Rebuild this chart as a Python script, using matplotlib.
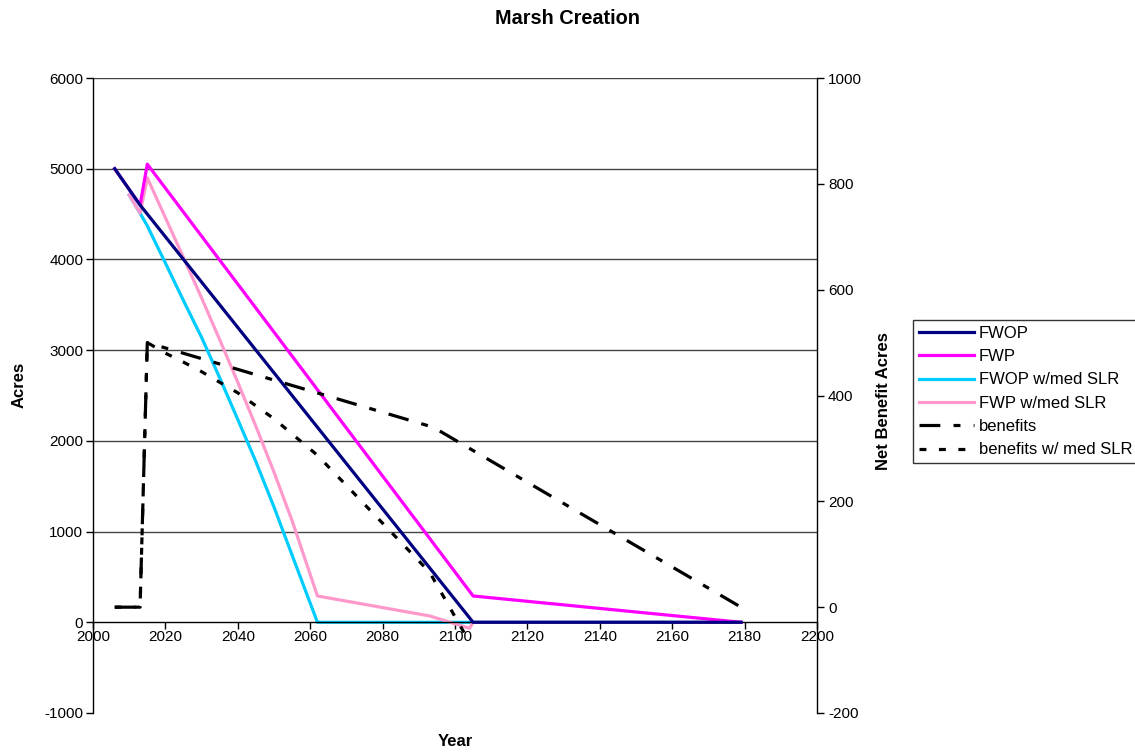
import matplotlib
matplotlib.use("Agg")
import matplotlib.pyplot as plt

plt.rcParams['font.family'] = ['Liberation Sans', 'DejaVu Sans']
plt.rcParams['lines.scale_dashes'] = False
plt.rcParams['axes.unicode_minus'] = False

# Acreage series (left axis)
fwop_years = [2006, 2013, 2105, 2179]
fwop_acres = [5000, 4600, 0, 0]

fwp_years = [2006, 2013, 2015, 2105, 2179]
fwp_acres = [5000, 4600, 5050, 290, 0]

fwop_slr_years = [2010, 2013, 2015, 2020, 2025, 2030, 2035, 2040, 2045, 2050, 2055, 2062, 2179]
fwop_slr_acres = [4710, 4510, 4370, 3960, 3545, 3140, 2695, 2235, 1770, 1270, 740, 0, 0]

fwp_slr_years = [2010, 2013, 2015, 2020, 2025, 2030, 2035, 2040, 2045, 2050, 2055, 2062,
                 2093, 2104, 2105, 2179]
fwp_slr_acres = [4710, 4510, 4900, 4460, 4020, 3575, 3115, 2645, 2160, 1655, 1120, 290,
                 70, -66, 0, 0]

# Net benefit series (right axis)
ben_years = [2006, 2013, 2015, 2094, 2179]
ben_acres = [0, 0, 500, 340, 0]

ben_slr_years = [2006, 2013, 2015, 2020, 2025, 2030, 2040, 2050, 2058, 2062, 2093, 2104]
ben_slr_acres = [0, 0, 500, 480, 463, 445, 405, 356, 310, 287, 66, -66]

x_ticks = [2000, 2020, 2040, 2060, 2080, 2100, 2120, 2140, 2160, 2180, 2200]
left_ticks = [-1000, 0, 1000, 2000, 3000, 4000, 5000, 6000]
grid_levels = [1000, 2000, 3000, 4000, 5000, 6000]
right_ticks = [-200, 0, 200, 400, 600, 800, 1000]

fig = plt.figure(figsize=(11.35, 7.53), dpi=100)
ax = fig.add_axes([93 / 1135, 1 - 713 / 753, (817 - 93) / 1135, (713 - 78) / 753])
ax2 = ax.twinx()

lw = 2.3
h1, = ax.plot(fwop_years, fwop_acres, color='#000080', lw=lw, label='FWOP', zorder=4)
h2, = ax.plot(fwp_years, fwp_acres, color='#FF00FF', lw=lw, label='FWP', zorder=3)
h3, = ax.plot(fwop_slr_years, fwop_slr_acres, color='#00CCFF', lw=lw, label='FWOP w/med SLR', zorder=2)
h4, = ax.plot(fwp_slr_years, fwp_slr_acres, color='#FF99CC', lw=lw, label='FWP w/med SLR', zorder=2.5)

h6, = ax2.plot(ben_slr_years, ben_slr_acres, color='black', lw=lw, label='benefits w/ med SLR')
h6.set_dashes([5, 9])
h5, = ax2.plot(ben_years, ben_acres, color='black', lw=lw, label='benefits')
h5.set_dashes([15, 9.5, 5, 9.5])

ax.set_xlim(2000, 2200)
ax.set_ylim(-1000, 6000)
ax2.set_ylim(-200, 1000)
ax.set_xticks(x_ticks)
ax.set_yticks(left_ticks)
ax2.set_yticks(right_ticks)

for g in grid_levels:
    ax.axhline(g, color='#444444', lw=1.0, zorder=0.5)

for a in (ax, ax2):
    a.spines['top'].set_visible(False)
    a.spines['bottom'].set_visible(False)
ax.spines['bottom'].set_visible(True)
ax.spines['bottom'].set_position(('data', 0))
ax.spines['right'].set_visible(False)
for s in ('left', 'bottom'):
    ax.spines[s].set_color('black')
    ax.spines[s].set_linewidth(1.0)
ax2.spines['right'].set_color('black')
ax2.spines['right'].set_linewidth(1.0)
ax2.spines['left'].set_visible(False)

ax.tick_params(axis='x', direction='out', length=5, width=1, labelsize=11, pad=0.5, color='black')
ax.tick_params(axis='y', direction='out', length=5, width=1, labelsize=11, pad=2, color='black')
ax2.tick_params(axis='y', direction='out', length=5, width=1, labelsize=11, pad=3, color='black')

ax.set_ylabel('Acres', fontsize=12, fontweight='bold')
ax.yaxis.set_label_coords((27 - 93) / 724, (713 - 385) / 635)
ax2.set_ylabel('Net Benefit Acres', fontsize=12, fontweight='bold')
ax2.yaxis.set_label_coords((876 - 93) / 724, (713 - 401) / 635)
fig.text(455 / 1135, 1 - 742 / 753, 'Year', fontsize=12, fontweight='bold', ha='center', va='center')
fig.text(0.5, 1 - 18 / 753, 'Marsh Creation', fontsize=14.3, fontweight='bold', ha='center', va='center')

leg = fig.legend([h1, h2, h3, h4, h5, h6],
                 ['FWOP', 'FWP', 'FWOP w/med SLR', 'FWP w/med SLR', 'benefits', 'benefits w/ med SLR'],
                 loc='upper left', bbox_to_anchor=(913 / 1135, 1 - 320 / 753),
                 fontsize=12, frameon=True, fancybox=False, edgecolor='black',
                 handlelength=3.3, handletextpad=0.3, borderpad=0.35, labelspacing=0.5,
                 borderaxespad=0)
leg.get_frame().set_linewidth(1.0)

fig.savefig('out.png', dpi=100)
